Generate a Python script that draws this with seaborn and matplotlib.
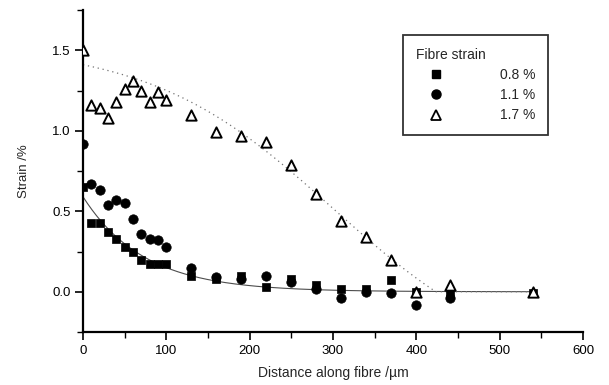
import numpy as np
import pandas as pd
import matplotlib
matplotlib.use("Agg")
import matplotlib.pyplot as plt
from matplotlib.ticker import MultipleLocator, FormatStrFormatter
from matplotlib.lines import Line2D
import seaborn as sns

# Measured strain profiles along the fibre for three applied fibre strains
dist_08 = [0, 10, 20, 30, 40, 50, 60, 70, 80, 90, 100, 130, 160, 190, 220, 250, 280, 310, 340, 370, 400, 440, 540]
strain_08 = [0.65, 0.43, 0.43, 0.37, 0.33, 0.28, 0.25, 0.20, 0.17, 0.17, 0.17, 0.10, 0.08, 0.10, 0.03, 0.08, 0.04, 0.02, 0.02, 0.07, 0.00, -0.01, -0.01]

dist_11 = [0, 10, 20, 30, 40, 50, 60, 70, 80, 90, 100, 130, 160, 190, 220, 250, 280, 310, 340, 370, 400, 440]
strain_11 = [0.92, 0.67, 0.63, 0.54, 0.57, 0.55, 0.45, 0.36, 0.33, 0.32, 0.28, 0.15, 0.09, 0.08, 0.10, 0.06, 0.02, -0.04, 0.00, -0.01, -0.08, -0.04]

dist_17 = [0, 10, 20, 30, 40, 50, 60, 70, 80, 90, 100, 130, 160, 190, 220, 250, 280, 310, 340, 370, 400, 440, 540]
strain_17 = [1.50, 1.16, 1.14, 1.08, 1.18, 1.26, 1.31, 1.25, 1.18, 1.24, 1.19, 1.10, 0.99, 0.97, 0.93, 0.79, 0.61, 0.44, 0.34, 0.20, 0.00, 0.04, 0.00]

labels = ["0.8 %", "1.1 %", "1.7 %"]

# Fitted curves: exponential decay (0.8 %) and Boltzmann sigmoid (1.7 %)
exp_amp, exp_len = 0.59, 73.0
boltz_a1, boltz_a2, boltz_x0, boltz_dx = 1.535, -0.50, 300.0, 110.0

x_fit = np.linspace(0, 540, 400)
fit_08 = exp_amp * np.exp(-x_fit / exp_len)
fit_17 = np.clip(boltz_a2 + (boltz_a1 - boltz_a2) / (1 + np.exp((x_fit - boltz_x0) / boltz_dx)), 0, None)

df08 = pd.DataFrame({"x": dist_08, "y": strain_08})
df11 = pd.DataFrame({"x": dist_11, "y": strain_11})
df17 = pd.DataFrame({"x": dist_17, "y": strain_17})
fits = pd.DataFrame({"x": x_fit, "f08": fit_08, "f17": fit_17})

sns.set_style("ticks")
plt.rcParams["font.family"] = ["Liberation Sans", "DejaVu Sans"]

fig = plt.figure(figsize=(6.09, 3.85), dpi=100)
ax = fig.add_axes([83 / 609, 53 / 385, 500 / 609, 322 / 385])

sns.lineplot(data=fits, x="x", y="f08", ax=ax, color="0.3", lw=0.8, zorder=2)
sns.lineplot(data=fits, x="x", y="f17", ax=ax, color="0.45", lw=0.9,
             linestyle=(0, (1, 3)), zorder=2)

sns.scatterplot(data=df08, x="x", y="y", ax=ax, marker="s", s=38, color="black",
                edgecolor="black", linewidth=0.5, zorder=3)
sns.scatterplot(data=df11, x="x", y="y", ax=ax, marker="o", s=46, color="black",
                edgecolor="black", linewidth=0.5, zorder=4)
sns.scatterplot(data=df17, x="x", y="y", ax=ax, marker="^", s=55, facecolor="white",
                edgecolor="black", linewidth=1.4, zorder=5)

ax.set_xlim(0, 600)
ax.set_ylim(-0.25, 1.75)
ax.xaxis.set_major_locator(MultipleLocator(100))
ax.xaxis.set_minor_locator(MultipleLocator(50))
ax.yaxis.set_major_locator(MultipleLocator(0.5))
ax.yaxis.set_minor_locator(MultipleLocator(0.25))
ax.yaxis.set_major_formatter(FormatStrFormatter("%.1f"))

for side in ("top", "right"):
    ax.spines[side].set_visible(False)
for side in ("left", "bottom"):
    ax.spines[side].set_linewidth(1.6)
    ax.spines[side].set_color("black")

ax.tick_params(which="major", direction="out", length=6, width=1.2, labelsize=9.5,
               colors="black", pad=3)
ax.tick_params(which="minor", direction="out", length=4, width=1.0, colors="black")

ax.set_xlabel("Distance along fibre /\u00b5m", fontsize=10, labelpad=7)
ax.set_ylabel("Strain /%", fontsize=9.5, labelpad=16)

handles = [
    Line2D([], [], marker="s", color="black", linestyle="none", markersize=6),
    Line2D([], [], marker="o", color="black", linestyle="none", markersize=6.5),
    Line2D([], [], marker="^", markerfacecolor="white", markeredgecolor="black",
           markeredgewidth=1.3, linestyle="none", markersize=7),
]
leg = ax.legend(handles, labels, title="Fibre strain", loc="upper left",
                bbox_to_anchor=(0.64, 0.922), borderaxespad=0, fontsize=10,
                title_fontsize=10, frameon=True, fancybox=False,
                borderpad=0.9, handlelength=3.0, handletextpad=3.1,
                labelspacing=0.45, alignment="left")
leg.get_frame().set_edgecolor("black")
leg.get_frame().set_linewidth(1.3)

fig.savefig("out.png", dpi=100)
